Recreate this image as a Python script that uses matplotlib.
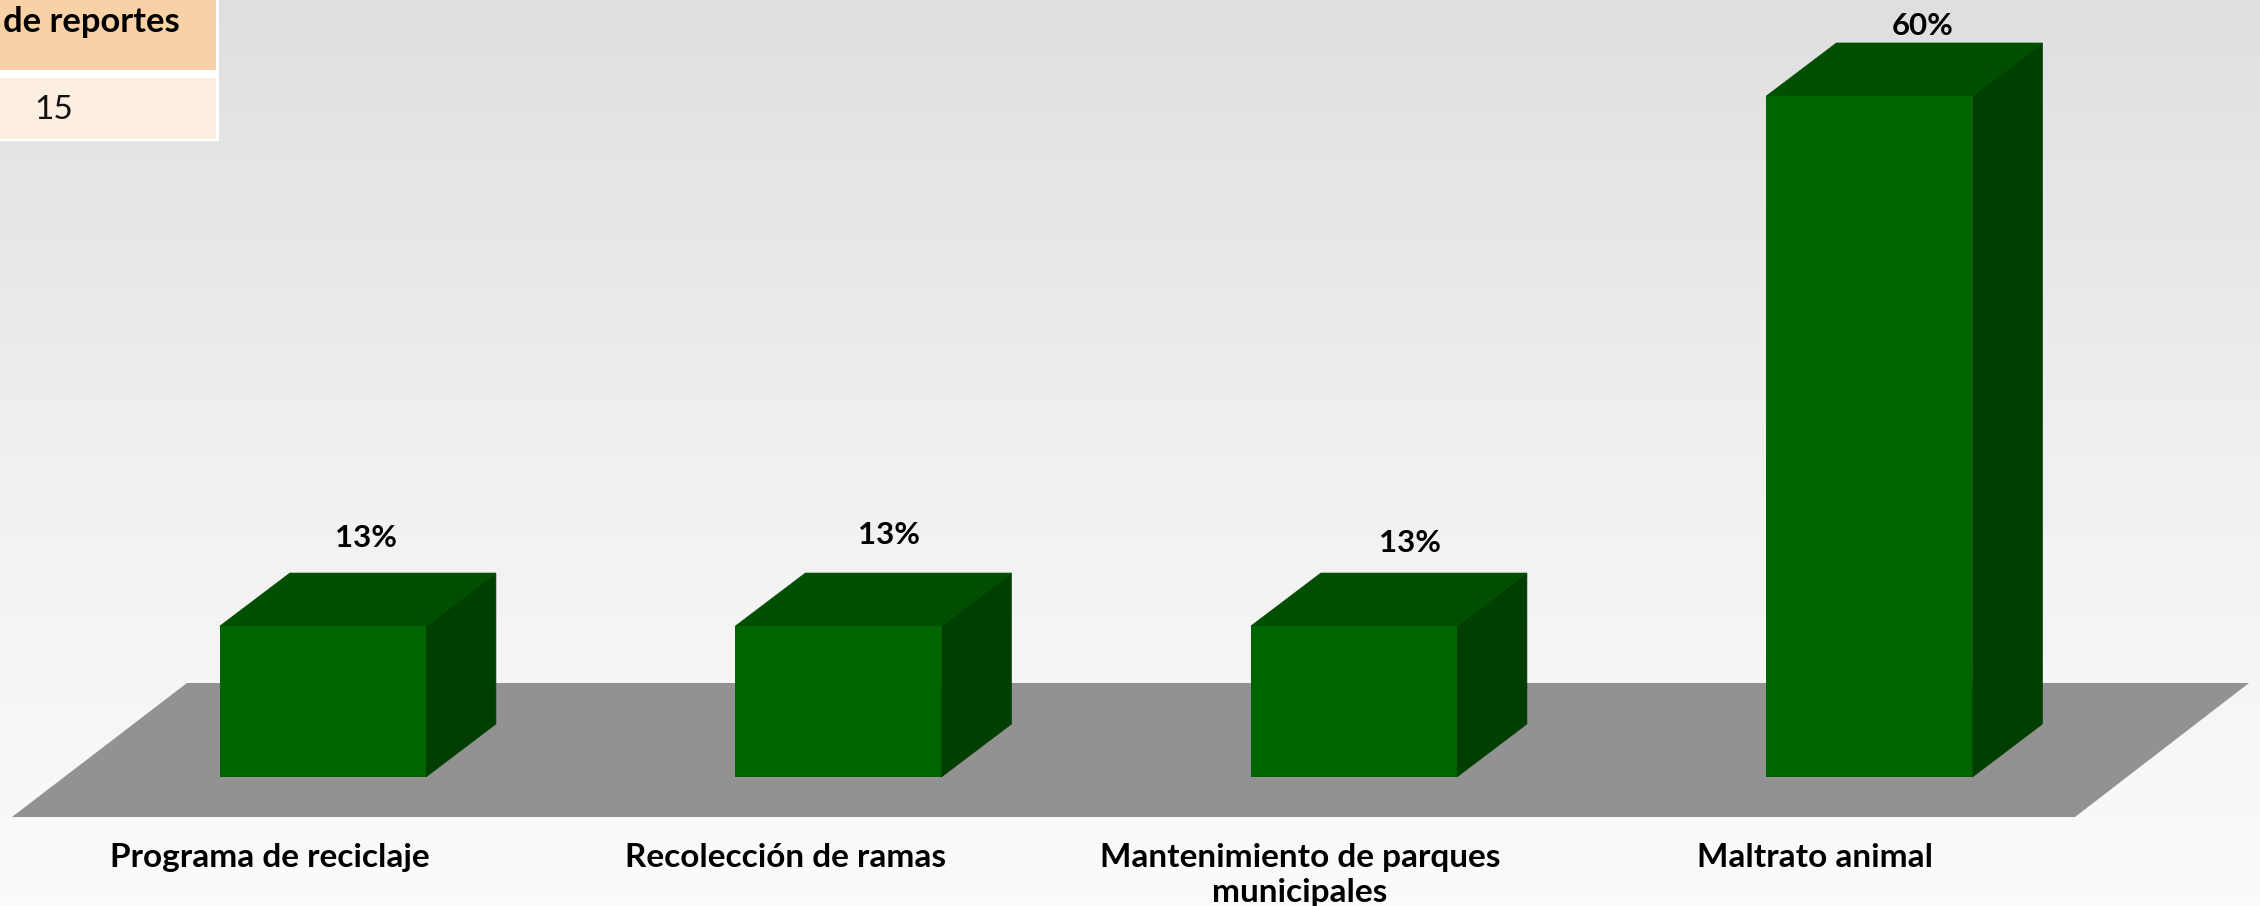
import numpy as np
import matplotlib
matplotlib.use('Agg')
import matplotlib.pyplot as plt
from matplotlib.patches import Polygon, Rectangle

categorias = ['Programa de reciclaje', 'Recolección de ramas',
              'Mantenimiento de parques\nmunicipales', 'Maltrato animal']
porcentajes = [13.3, 13.3, 13.3, 60.0]
etiquetas = ['13%', '13%', '13%', '60%']
tabla_encabezado = 'de reportes'
tabla_valor = '15'

W, H = 2260, 906
PX_X = 515.5   # pixels per category
PX_Y = 11.35   # pixels per percent
X0, Y0 = 323, 777

plt.rcParams['font.family'] = ['Lato', 'DejaVu Sans']

fig = plt.figure(figsize=(W / 100, H / 100), dpi=100)
ax = fig.add_axes([0, 0, 1, 1])
ax.set_xlim(-X0 / PX_X, (W - X0) / PX_X)
ax.set_ylim(-(H - Y0) / PX_Y, Y0 / PX_Y)
ax.axis('off')

# background gradient
grad = np.linspace(0, 1, 256).reshape(-1, 1)
ax.imshow(grad, cmap=matplotlib.colors.LinearSegmentedColormap.from_list(
    'fondo', ['#dfdfdf', '#f0f0f0', '#fbfbfb']),
    extent=[*ax.get_xlim(), *ax.get_ylim()], aspect='auto', zorder=0)

w = 206 / PX_X
dx = 70 / PX_X
dy = 53 / PX_Y


def px(x, y):
    return (x - X0) / PX_X, (Y0 - y) / PX_Y


# floor
ax.add_patch(Polygon([px(12, 817), px(187, 683), px(2249, 683), px(2075, 817)],
                     facecolor='#929292', edgecolor='none', zorder=1))

# bars
left = -0.2
for i, v in enumerate(porcentajes):
    x = i + left
    ax.add_patch(Polygon([(x + w, 0), (x + w + dx, dy), (x + w + dx, v + dy), (x + w, v)],
                         facecolor='#003f00', edgecolor='#003f00', linewidth=0.5, zorder=2))
    ax.add_patch(Polygon([(x, v), (x + dx, v + dy), (x + w + dx, v + dy), (x + w, v)],
                         facecolor='#004f00', edgecolor='#004f00', linewidth=0.5, zorder=2))
    ax.add_patch(Rectangle((x, 0), w, v, facecolor='#006400', edgecolor='none', zorder=3))

# value labels
lab_pos = [(366, 538), (889, 535), (1410, 543), (1923, 26)]
for s, (a, b) in zip(etiquetas, lab_pos):
    ax.text(*px(a, b), s, ha='center', va='center', fontsize=22.5, fontweight='bold',
            color='black', zorder=5)

# category labels
cat_pos = [270, 785.5, 1300, 1815]
for s, a in zip(categorias, cat_pos):
    ax.text(*px(a, 843), s, ha='center', va='top', fontsize=24, fontweight='bold',
            color='black', linespacing=1.27, zorder=5)

# piece of table, top left corner
ax.add_patch(Rectangle(px(-5, 141), (224) / PX_X, 145 / PX_Y, facecolor='white',
                       edgecolor='none', zorder=4))
ax.add_patch(Rectangle(px(-5, 70), 221 / PX_X, 75 / PX_Y, facecolor='#f8d2a6',
                       edgecolor='none', zorder=5))
ax.add_patch(Rectangle(px(-5, 139), 221 / PX_X, 61 / PX_Y, facecolor='#fceee0',
                       edgecolor='none', zorder=5))
ax.text(*px(3, 22), tabla_encabezado, ha='left', va='center', fontsize=24.8, fontweight='bold',
        color='black', zorder=6)
ax.text(*px(34, 110), tabla_valor, ha='left', va='center', fontsize=24, fontweight='normal',
        color='#111111', zorder=6)

fig.savefig('out.png', dpi=100)
